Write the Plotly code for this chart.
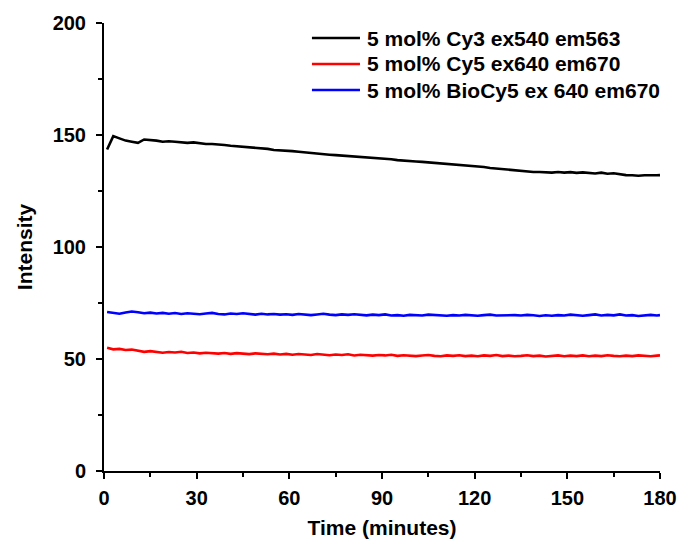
import plotly.graph_objects as go

time = list(range(1, 180, 2)) + [180]

cy3 = [143.5, 149.5, 148.5, 147.5, 147.0, 146.5, 148.0, 147.8, 147.5, 147.0,
       147.2, 147.0, 146.8, 146.5, 146.7, 146.2, 146.0, 146.0, 145.6, 145.5,
       145.2, 145.0, 144.9, 144.5, 144.2, 144.0, 143.8, 143.3, 143.2, 143.0,
       142.8, 142.5, 142.2, 141.8, 141.7, 141.5, 141.2, 141.0, 140.8, 140.8,
       140.5, 140.2, 140.0, 139.7, 139.5, 139.3, 139.2, 138.8, 138.7, 138.4,
       138.2, 138.0, 137.8, 137.5, 137.4, 137.2, 136.8, 136.7, 136.4, 136.2,
       136.0, 135.7, 135.3, 135.0, 134.7, 134.4, 134.2, 133.8, 133.6, 133.5,
       133.5, 133.3, 133.2, 133.5, 133.2, 133.4, 133.1, 133.3, 133.0, 132.8,
       133.2, 132.7, 132.9, 132.4, 132.1, 132.0, 131.8, 132.0, 131.9, 132.0,
       132.1]

biocy5 = [71.0, 70.6, 70.2, 70.8, 71.2, 70.9, 70.4, 70.7, 70.3, 70.6,
          70.2, 70.5, 70.1, 70.4, 70.2, 70.0, 70.3, 70.6, 70.1, 69.9,
          70.3, 70.1, 70.4, 70.0, 69.8, 70.2, 69.9, 70.1, 69.8, 70.0,
          69.7, 70.1, 69.9, 69.6, 69.9, 70.2, 69.8, 69.6, 69.9, 69.7,
          70.0, 69.8, 69.5, 69.8, 69.6, 69.9, 69.4, 69.6, 69.3, 69.7,
          69.5, 69.4, 69.8, 69.6, 69.5, 69.3, 69.6, 69.4, 69.7, 69.5,
          69.3, 69.6, 69.8, 69.4, 69.5, 69.3, 69.6, 69.4, 69.7, 69.5,
          69.2, 69.5, 69.3, 69.6, 69.4, 69.8, 69.5, 69.3, 69.6, 69.9,
          69.4, 69.7, 69.5, 69.9, 69.4, 69.6, 69.2, 69.5, 69.7, 69.4,
          69.6]

cy5 = [55.0, 54.3, 54.5, 54.0, 54.2, 53.7, 53.2, 53.5, 53.3, 52.8,
       53.1, 52.9, 53.2, 52.7, 52.9, 52.5, 52.8, 52.6, 52.4, 52.7,
       52.3, 52.6, 52.4, 52.2, 52.5, 52.3, 52.1, 52.4, 52.0, 52.3,
       51.9, 52.2, 52.0, 51.8, 52.2, 51.9, 51.7, 52.0, 51.8, 52.1,
       51.6, 51.9, 51.7, 51.5, 51.8, 51.6, 51.9, 51.4, 51.7, 51.5,
       51.3, 51.6, 51.8, 51.4, 51.2, 51.6, 51.4, 51.7, 51.3, 51.5,
       51.2, 51.6, 51.4, 51.8, 51.3, 51.5, 51.2, 51.4, 51.7, 51.3,
       51.5, 51.1, 51.4, 51.6, 51.2, 51.5, 51.3, 51.6, 51.2, 51.5,
       51.3, 51.7, 51.4, 51.2, 51.5, 51.3, 51.6, 51.4, 51.2, 51.5,
       51.6]

names = ["5 mol% Cy3 ex540 em563", "5 mol% Cy5 ex640 em670", "5 mol% BioCy5 ex 640 em670"]
colors = ["#000000", "#ff0000", "#0000ff"]
series = [cy3, cy5, biocy5]

x_ticks = [0, 30, 60, 90, 120, 150, 180]
x_minor = [15, 45, 75, 105, 135, 165]
y_ticks = [0, 50, 100, 150, 200]
y_minor = [25, 75, 125, 175]

assert len(time) == len(cy3) == len(cy5) == len(biocy5)

FONT = "Liberation Sans, Arial, sans-serif"

fig = go.Figure()
for nm, col, ys in zip(names, colors, series):
    fig.add_trace(go.Scatter(x=time, y=ys, mode="lines", name=nm, showlegend=False,
                             line=dict(color=col, width=2.6)))

axis_common = dict(
    showgrid=False, zeroline=False, showline=True, linecolor="black", linewidth=2,
    ticks="outside", ticklen=6, tickwidth=2, tickcolor="black",
    tickfont=dict(family=FONT, size=20, color="black", weight="bold"),
    mirror=False, automargin=False,
)

fig.update_xaxes(range=[0, 180], tickvals=x_ticks,
                 minor=dict(tickvals=x_minor, ticks="outside",
                            ticklen=4, tickwidth=2, tickcolor="black"),
                 ticklabelstandoff=2,
                 title=dict(text="Time (minutes)", standoff=12,
                            font=dict(family=FONT, size=21, color="black", weight="bold")),
                 **axis_common)
fig.update_yaxes(range=[0, 200], tickvals=y_ticks,
                 minor=dict(tickvals=y_minor, ticks="outside",
                            ticklen=4, tickwidth=2, tickcolor="black"),
                 ticklabelstandoff=6,
                 title=dict(text="Intensity", standoff=14,
                            font=dict(family=FONT, size=21, color="black", weight="bold")),
                 **axis_common)

# legend drawn as line samples + text labels in plot-area fractions
leg_x0, leg_x1, leg_tx = 0.374, 0.4604, 0.4694
leg_rows = [0.9665, 0.9085, 0.8504]
for nm, col, yy in zip(names, colors, leg_rows):
    fig.add_shape(type="line", xref="x domain", yref="y domain",
                  x0=leg_x0, x1=leg_x1, y0=yy, y1=yy,
                  line=dict(color=col, width=2.6))
    fig.add_annotation(xref="x domain", yref="y domain", x=leg_tx, y=yy,
                       text=nm, showarrow=False, xanchor="left", yanchor="middle",
                       font=dict(family=FONT, size=21, color="black", weight="bold"))

fig.update_layout(
    width=683, height=544,
    margin=dict(l=104, r=23, t=23, b=73),
    paper_bgcolor="white", plot_bgcolor="white",
    showlegend=False,
)

fig.write_html("out.html")
